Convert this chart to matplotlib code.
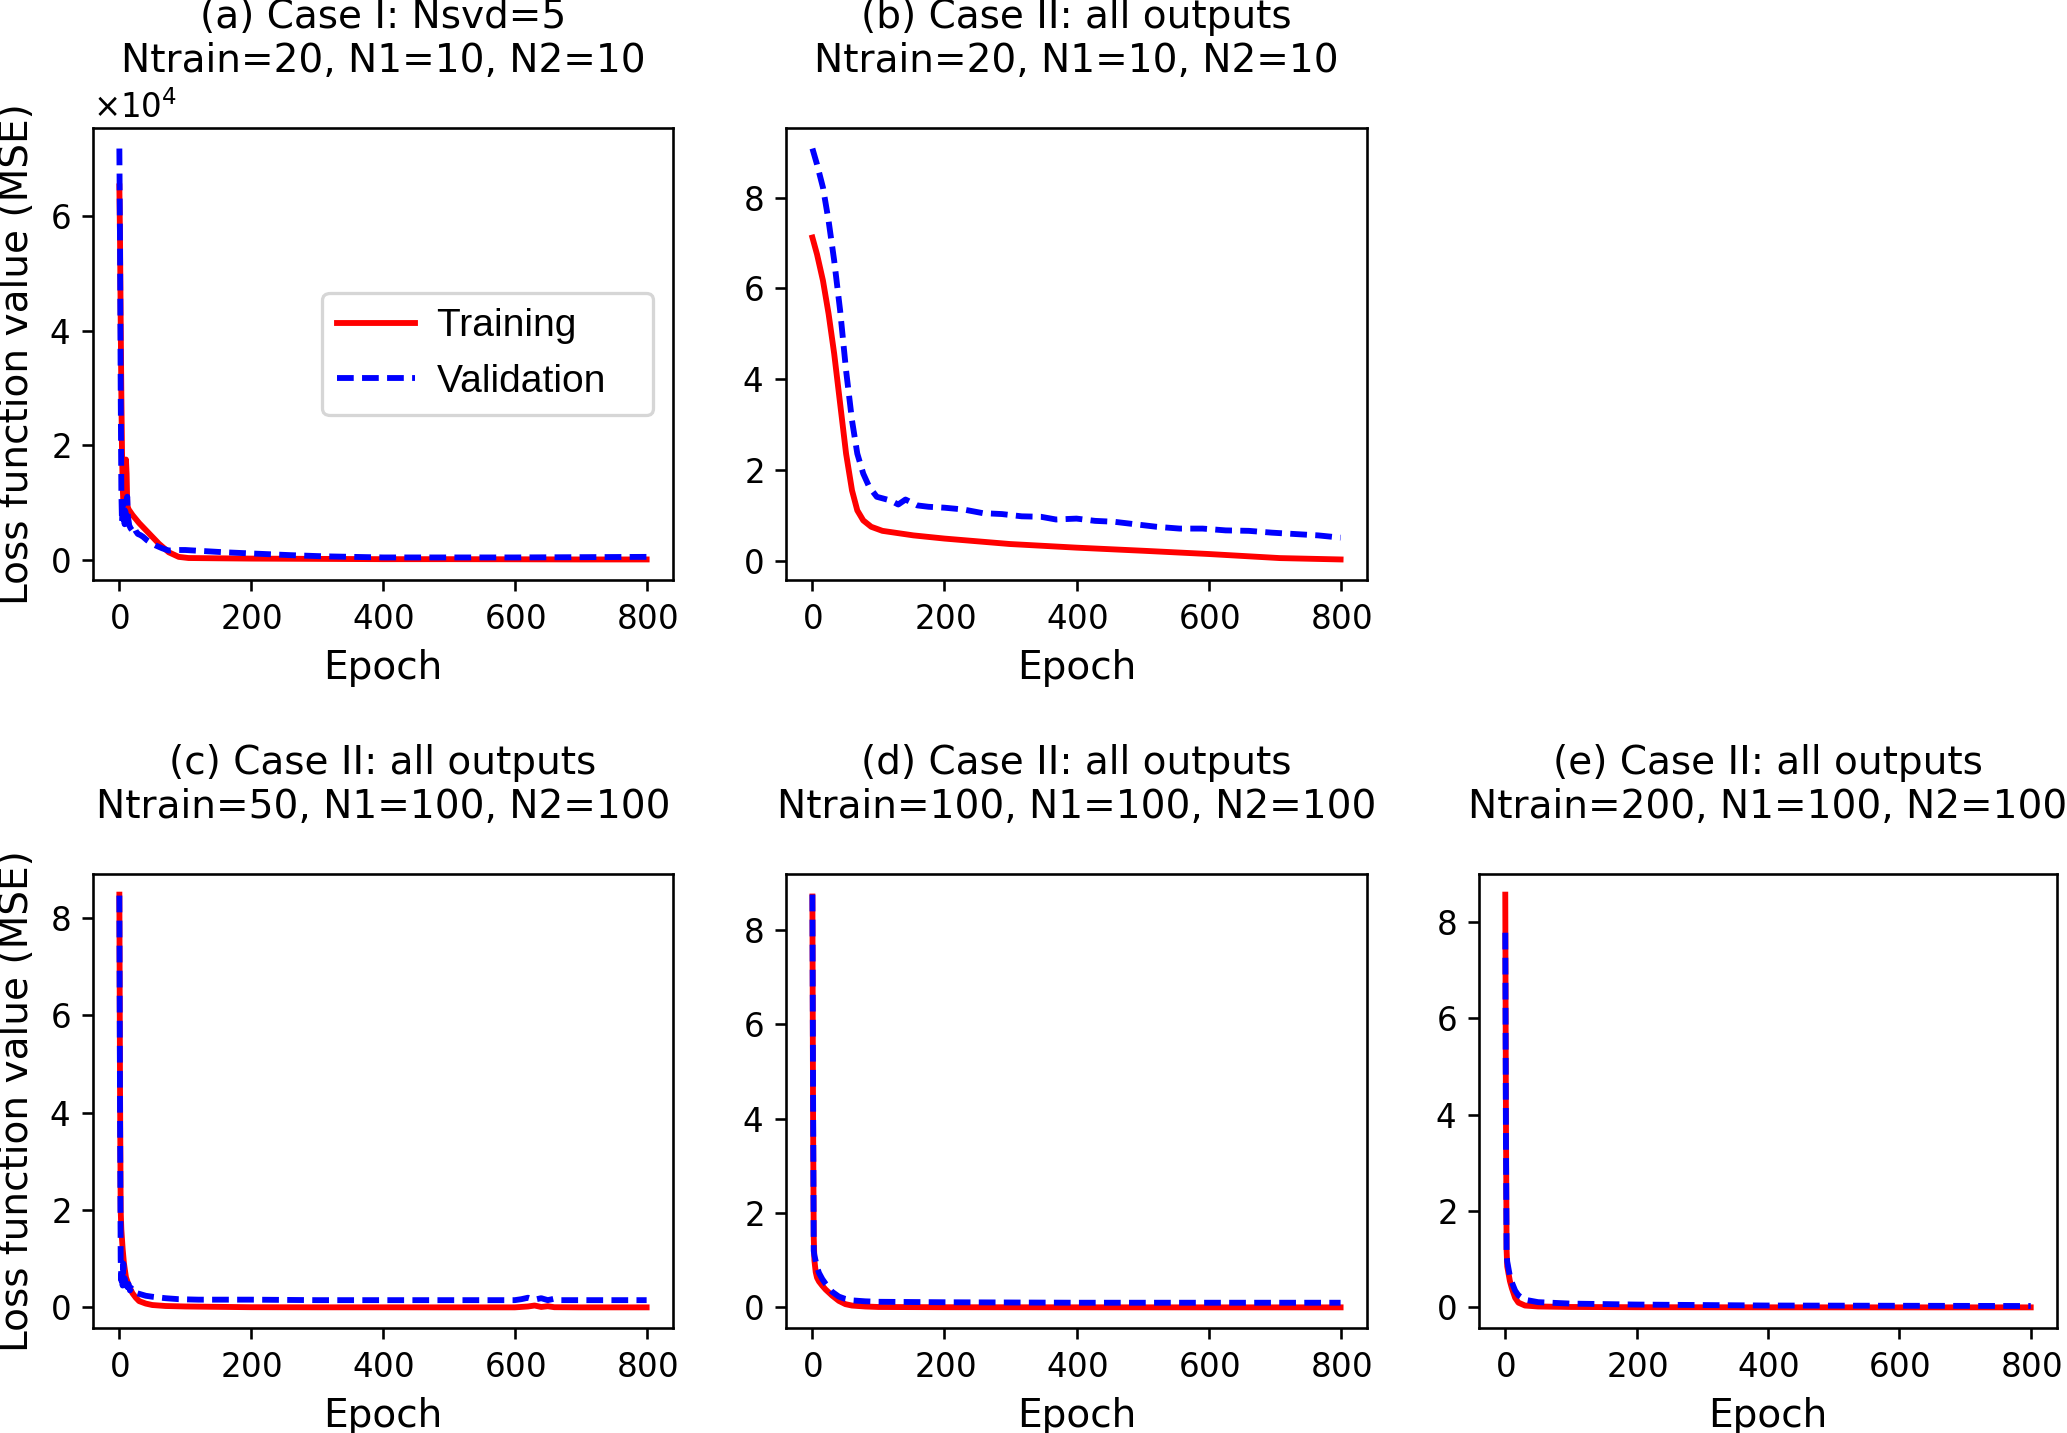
import matplotlib
matplotlib.use("Agg")
import matplotlib.pyplot as plt

# ---------------- data ----------------
titles = [
    "(a) Case I: Nsvd=5\nNtrain=20, N1=10, N2=10",
    "(b) Case II: all outputs\nNtrain=20, N1=10, N2=10",
    "(c) Case II: all outputs\nNtrain=50, N1=100, N2=100",
    "(d) Case II: all outputs\nNtrain=100, N1=100, N2=100",
    "(e) Case II: all outputs\nNtrain=200, N1=100, N2=100",
]
xlabel_text = "Epoch"
ylabel_text = "Loss function value (MSE)"
legend_labels = ["Training", "Validation"]
xticks = [0, 200, 400, 600, 800]

# (a)
a_train_ep = [0, 1, 2, 3, 4, 5, 6, 8, 10, 11, 12, 14, 20, 30, 45, 60, 75, 90, 105,
              150, 200, 300, 400, 500, 600, 700, 800]
a_train = [65200, 56000, 42000, 29000, 19000, 13000, 10000, 9500, 17500, 15000,
           9500, 8800, 7800, 6400, 4600, 2800, 1300, 500, 300,
           250, 200, 150, 100, 100, 80, 50, 50]
a_val_ep = [0, 1, 2, 3, 4, 5, 6, 7, 8, 9, 10, 11, 12, 13, 14, 15, 17, 19, 22, 25,
            28, 32, 36, 42, 50, 55, 65, 75, 85, 100, 130, 160, 200, 260, 310,
            400, 500, 600, 700, 800]
a_val = [71800, 55000, 30000, 12000, 6500, 9500, 7000, 9500, 6200, 8500, 7000,
         10500, 11000, 7500, 6800, 6000, 5500, 5200, 5800, 5000,
         4500, 4300, 4000, 3400, 2800, 2500, 2000, 1600, 1700, 1700, 1500, 1300,
         1100, 800, 600, 400, 400, 400, 450, 500]

# (b)
b_train_ep = [0, 7, 16, 24.5, 33, 42, 51, 60, 68, 77, 89, 106, 153, 200, 299, 400,
              503, 600, 708, 800]
b_train = [7.12, 6.75, 6.17, 5.44, 4.56, 3.46, 2.36, 1.55, 1.11, 0.89, 0.75, 0.66,
           0.56, 0.49, 0.37, 0.29, 0.22, 0.15, 0.06, 0.03]
b_val_ep = [0, 7, 16, 24.5, 33, 42, 51, 60, 68, 77, 86, 97.5, 118, 130, 141, 159,
            176, 200, 229, 258, 287, 317, 346, 369, 400, 428, 457, 486, 521, 556,
            591, 626, 661, 696, 731, 766, 800]
b_val = [9.08, 8.73, 8.22, 7.49, 6.61, 5.51, 4.19, 3.09, 2.36, 1.92, 1.63, 1.41,
         1.33, 1.24, 1.35, 1.22, 1.19, 1.17, 1.13, 1.05, 1.03, 0.98, 0.97, 0.91,
         0.93, 0.88, 0.86, 0.81, 0.75, 0.71, 0.71, 0.67, 0.66, 0.62, 0.59, 0.56,
         0.51]

# (c)
c_train_ep = [0, 1, 2, 3, 5, 7, 10, 15, 20, 25, 30, 40, 50, 70, 100, 200, 300, 400,
              500, 600, 620, 630, 640, 650, 660, 700, 800]
c_train = [8.47, 4.5, 2.0, 1.6, 1.2, 0.9, 0.62, 0.42, 0.29, 0.2, 0.13, 0.08, 0.05,
           0.03, 0.02, 0.005, 0.003, 0.003, 0.002, 0.002, 0.02, 0.04, 0.01, 0.025,
           0.005, 0.002, 0.002]
c_val_ep = [0, 1, 2, 3, 4, 5, 6, 7, 8, 9, 10, 12, 14, 16, 18, 20, 25, 30, 40, 50,
            70, 90, 120, 150, 200, 300, 400, 500, 600, 610, 620, 630, 640, 650,
            660, 670, 700, 800]
c_val = [8.45, 4.0, 0.98, 0.55, 0.8, 0.45, 0.9, 0.5, 0.6, 0.4, 0.5, 0.42, 0.48,
         0.35, 0.4, 0.34, 0.3, 0.28, 0.24, 0.22, 0.19, 0.17, 0.16, 0.16, 0.16,
         0.15, 0.15, 0.15, 0.15, 0.17, 0.2, 0.16, 0.19, 0.15, 0.18, 0.15, 0.15,
         0.15]

# (d)
d_train_ep = [0, 1, 2, 3, 5, 7, 10, 15, 20, 30, 40, 50, 60, 80, 100, 200, 400, 600, 800]
d_train = [8.7, 4.0, 1.5, 1.0, 0.75, 0.63, 0.55, 0.46, 0.38, 0.25, 0.14, 0.07,
           0.04, 0.02, 0.01, 0.005, 0.003, 0.002, 0.002]
d_val_ep = [0, 1, 2, 3, 5, 7, 10, 15, 20, 30, 40, 50, 60, 80, 100, 200, 400, 600, 800]
d_val = [8.74, 4.5, 1.2, 1.1, 0.98, 0.85, 0.73, 0.6, 0.5, 0.33, 0.23, 0.18, 0.15,
         0.13, 0.12, 0.11, 0.1, 0.1, 0.1]

# (e)
e_train_ep = [0, 1, 2, 3, 5, 7, 10, 15, 20, 30, 50, 100, 200, 400, 600, 800]
e_train = [8.56, 4.0, 1.2, 0.85, 0.7, 0.55, 0.4, 0.2, 0.1, 0.04, 0.02, 0.01,
           0.005, 0.003, 0.002, 0.002]
e_val_ep = [0, 1, 2, 3, 5, 7, 10, 15, 20, 30, 50, 100, 200, 400, 600, 800]
e_val = [7.77, 3.5, 1.1, 0.95, 0.8, 0.65, 0.52, 0.35, 0.25, 0.16, 0.11, 0.08,
         0.06, 0.04, 0.035, 0.03]

panels = [
    (a_train_ep, a_train, a_val_ep, a_val),
    (b_train_ep, b_train, b_val_ep, b_val),
    (c_train_ep, c_train, c_val_ep, c_val),
    (d_train_ep, d_train, d_val_ep, d_val),
    (e_train_ep, e_train, e_val_ep, e_val),
]

# ---------------- figure ----------------
DPI = 234
W, H = 2067, 1433
plt.rcParams["font.family"] = ["DejaVu Sans"]
plt.rcParams["axes.formatter.use_mathtext"] = True
fig = plt.figure(figsize=(W / DPI, H / DPI), dpi=DPI)

# axes boxes in pixels: (left, top, width, height)
boxes = [
    (93, 128, 580, 452),
    (786, 128, 581, 452),
    (93, 874, 580, 454),
    (786, 874, 581, 454),
    (1479, 874, 578, 454),
]

LW = 1.8
for i, (box, (tx, ty, vx, vy)) in enumerate(zip(boxes, panels)):
    l, t, w, h = box
    ax = fig.add_axes([l / W, (H - t - h) / H, w / W, h / H])
    ax.plot(tx, ty, color="red", lw=LW, ls="-", label=legend_labels[0])
    ax.plot(vx, vy, color="blue", lw=LW, ls=(0, (2.86, 1.42)),
            label=legend_labels[1])
    ax.set_xticks(xticks)
    ax.tick_params(labelsize=10)
    ax.set_title(titles[i], fontsize=12, pad=17.3, y=1.0)
    ax.set_xlabel(xlabel_text, fontsize=12)
    if i in (0, 2):
        ax.set_ylabel(ylabel_text, fontsize=12)
    if i == 0:
        ax.ticklabel_format(axis="y", style="sci", scilimits=(0, 0),
                            useMathText=True)
        ax.yaxis.get_offset_text().set_fontsize(10)
        ax.legend(loc="center right", handletextpad=0.55,
                  labels=[s + "   " for s in legend_labels],
                  prop={"family": "Liberation Sans", "size": 12})

fig.savefig("out.png", dpi=DPI)
